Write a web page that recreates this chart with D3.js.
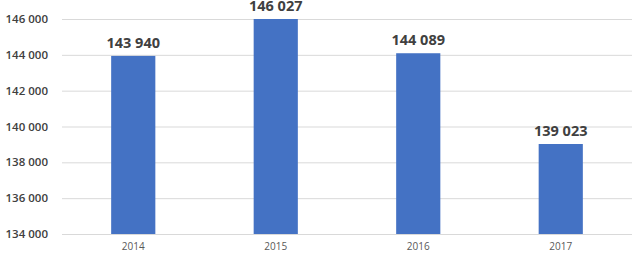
<!DOCTYPE html>
<html>
<head>
<meta charset="utf-8">
<script src="https://cdn.jsdelivr.net/npm/d3@7"></script>
<style>
  body { margin: 0; background: #fff; }
  svg { display: block; font-family: "Open Sans", "Noto Sans", sans-serif; }
</style>
</head>
<body>
<script>
var years = ['2014', '2015', '2016', '2017'];
var values = [143940, 146027, 144089, 139023];
var yTicks = [134000, 136000, 138000, 140000, 142000, 144000, 146000];

var width = 632, height = 253;
var margin = {top: 19, right: 0, bottom: 19, left: 62};

var fmt = function (v) {
  return d3.format(',')(v).replace(/,/g, ' ');
};

var svg = d3.select('body').append('svg').attr('width', width).attr('height', height);

var x = d3.scaleBand().domain(years).range([margin.left, width - margin.right]).paddingInner(0.69).paddingOuter(0.345);
var y = d3.scaleLinear().domain([134000, 146000]).range([height - margin.bottom, margin.top]);

// grid lines
svg.append('g').selectAll('line').data(yTicks).enter().append('line')
  .attr('x1', margin.left).attr('x2', width)
  .attr('y1', function (d) { return y(d) + 0.5; })
  .attr('y2', function (d) { return y(d) + 0.5; })
  .attr('stroke', '#d9d9d9').attr('stroke-width', 1);

// y tick labels
svg.append('g').selectAll('text').data(yTicks).enter().append('text')
  .attr('x', 48)
  .attr('y', function (d) { return y(d); })
  .attr('dy', '0.35em')
  .attr('text-anchor', 'end')
  .attr('font-size', 11.5)
  .attr('font-weight', 600)
  .attr('fill', '#404040')
  .text(fmt);

// bars
svg.append('g').selectAll('rect').data(values).enter().append('rect')
  .attr('x', function (d, i) { return x(years[i]); })
  .attr('width', x.bandwidth())
  .attr('y', function (d) { return Math.max(y(d), margin.top); })
  .attr('height', function (d) { return y(134000) - Math.max(y(d), margin.top); })
  .attr('fill', '#4472c4');

// value labels
svg.append('g').selectAll('text').data(values).enter().append('text')
  .attr('x', function (d, i) { return x(years[i]) + x.bandwidth() / 2; })
  .attr('y', function (d) { return Math.max(y(d), margin.top) - 8; })
  .attr('text-anchor', 'middle')
  .attr('font-size', 14.5)
  .attr('font-weight', 700)
  .attr('fill', '#404040')
  .text(fmt);

// x labels
svg.append('g').selectAll('text').data(years).enter().append('text')
  .attr('x', function (d) { return x(d) + x.bandwidth() / 2; })
  .attr('y', 250)
  .attr('text-anchor', 'middle')
  .attr('font-size', 10)
  .attr('fill', '#595959')
  .text(function (d) { return d; });
</script>
</body>
</html>
